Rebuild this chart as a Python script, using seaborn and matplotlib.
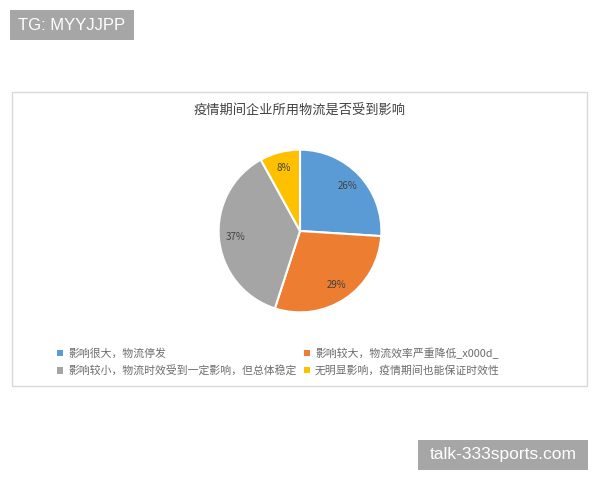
import matplotlib
matplotlib.use("Agg")
import matplotlib.pyplot as plt
from matplotlib.patches import Rectangle
import seaborn as sns

title = "疫情期间企业所用物流是否受到影响"
labels = ["影响很大，物流停发",
          "影响较大，物流效率严重降低_x000d_",
          "影响较小，物流时效受到一定影响，但总体稳定",
          "无明显影响，疫情期间也能保证时效性"]
shares = [26, 29, 37, 8]
colors = ["#5B9BD5", "#ED7D31", "#A5A5A5", "#FFC000"]

sns.set_theme(style="white")
plt.rcParams['font.family'] = ['Noto Sans CJK SC', 'DejaVu Sans']

W, H = 600, 480
fig = plt.figure(figsize=(6, 4.8), dpi=100)
fig.patch.set_facecolor("white")

def fx(x):
    return x / W

def fy(y):
    return 1 - y / H

# chart frame
fig.patches.append(Rectangle((fx(12), fy(386)), fx(575), (386 - 92) / H,
                             transform=fig.transFigure, fill=False,
                             edgecolor="#d9d9d9", linewidth=1))

fig.text(fx(300), fy(111), title, ha="center", va="center",
         fontsize=9.5, color="#404040")

# pie
cx, cy, r = 300, 231, 83
ax = fig.add_axes([fx(cx - r), fy(cy + r), 2 * r / W, 2 * r / H])
wedges, _, autotexts = ax.pie(shares, colors=colors, startangle=90, counterclock=False,
                              autopct="%d%%", pctdistance=0.8,
                              wedgeprops=dict(edgecolor="white", linewidth=1.5),
                              textprops=dict(fontsize=7, color="#404040"))
ax.set_xlim(-1.02, 1.02)
ax.set_ylim(-1.02, 1.02)
ax.set_aspect("equal")
ax.axis("off")

# legend, row-wise order
order = [0, 2, 1, 3]
leg = fig.legend([wedges[i] for i in order], [labels[i] for i in order],
                 ncol=2, loc="upper left", bbox_to_anchor=(fx(52), fy(342)),
                 frameon=False, fontsize=7.8, handlelength=0.55, handleheight=0.55,
                 handletextpad=0.5, columnspacing=0.6, labelspacing=0.6,
                 borderpad=0, labelcolor="#6b6b6b")
for h in leg.legend_handles:
    h.set_edgecolor("none")

# watermarks
fig.patches.append(Rectangle((fx(10), fy(40)), fx(124), 30 / H,
                             transform=fig.transFigure, facecolor="#a6a6a6",
                             edgecolor="none"))
fig.text(fx(72), fy(25), "TG: MYYJJPP", ha="center", va="center",
         fontsize=12, color="white", family="Liberation Sans")
fig.patches.append(Rectangle((fx(418), fy(470)), fx(170), 30 / H,
                             transform=fig.transFigure, facecolor="#a6a6a6",
                             edgecolor="none"))
fig.text(fx(503), fy(455), "talk-333sports.com", ha="center", va="center",
         fontsize=12.5, color="white", family="Liberation Sans")

fig.savefig("out.png", dpi=100, facecolor="white")
